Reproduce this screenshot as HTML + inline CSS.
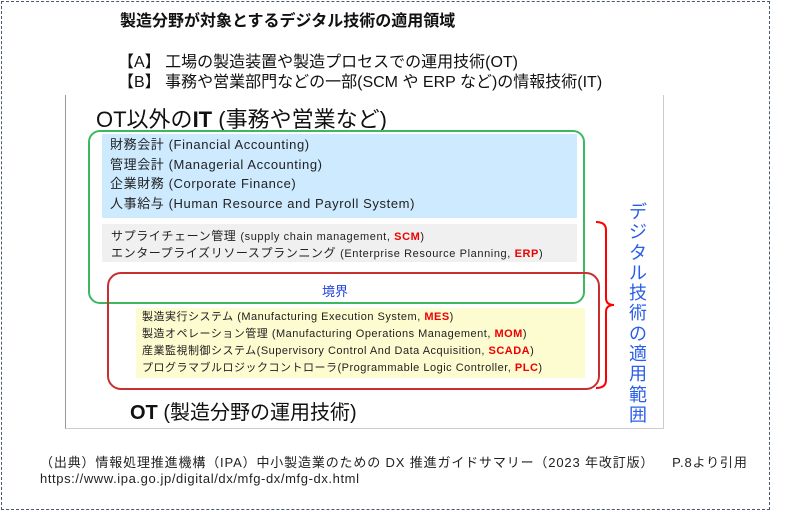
<!DOCTYPE html>
<html><head><meta charset="utf-8"><style>
body{margin:0;width:800px;height:511px;background:#fff;position:relative;overflow:hidden;font-family:"Liberation Sans","Noto Sans CJK JP",sans-serif;color:#222}
div{position:absolute;white-space:nowrap}
.r{color:#e00;font-weight:bold}
</style></head><body>
<div style="left:1px;top:1px;width:767px;height:507px;border:1.5px dashed #4a5a6a"></div>
<div style="left:120px;top:7px;font-size:16px;font-weight:bold;color:#111">製造分野が対象とするデジタル技術の適用領域</div>
<div style="left:118px;top:48px;font-size:16px;color:#111">【A】 工場の製造装置や製造プロセスでの運用技術(OT)</div>
<div style="left:118px;top:68px;font-size:16px;color:#111">【B】 事務や営業部門などの一部(SCM や ERP など)の情報技術(IT)</div>
<div style="left:65px;top:95px;width:597px;height:333px;border-left:1px solid #999;border-right:1px solid #ccc;border-bottom:1px solid #ccc"></div>
<div style="left:96px;top:102px;font-size:22px;color:#111">OT以外の<b>IT</b> (事務や営業など)</div>
<div style="left:102px;top:134px;width:475px;height:84px;background:#cdeaff"></div>
<div style="left:102px;top:224px;width:475px;height:38px;background:#f0f0f0"></div>
<div style="left:136px;top:308px;width:449px;height:70px;background:#fdfbd0"></div>
<div style="left:88px;top:130px;width:493px;height:170px;border:2px solid #3cb860;border-radius:12px"></div>
<div style="left:107px;top:272px;width:489px;height:114px;border:2px solid #c83030;border-radius:14px"></div>
<div style="left:110px;top:135px;font-size:13px;line-height:19.5px;color:#222;letter-spacing:0.6px">財務会計 (Financial Accounting)<br>管理会計 (Managerial Accounting)<br>企業財務 (Corporate Finance)<br>人事給与 (Human Resource and Payroll System)</div>
<div style="left:111px;top:228px;font-size:12px;line-height:16px;color:#222;letter-spacing:0.6px">サプライチェーン管理 <span style="font-size:11px">(supply chain management, <span class="r">SCM</span>)</span><br>エンタープライズリソースプランニング <span style="font-size:11px">(Enterprise Resource Planning, <span class="r">ERP</span>)</span></div>
<div style="left:322px;top:281px;font-size:13px;color:#2244dd">境界</div>
<div style="left:142px;top:309px;font-size:11px;line-height:17px;color:#222;letter-spacing:0.5px">製造実行システム (Manufacturing Execution System, <span class="r">MES</span>)<br>製造オペレーション管理 (Manufacturing Operations Management, <span class="r">MOM</span>)<br>産業監視制御システム(Supervisory Control And Data Acquisition, <span class="r">SCADA</span>)<br>プログラマブルロジックコントローラ(Programmable Logic Controller, <span class="r">PLC</span>)</div>
<div style="left:130px;top:396px;font-size:20px;color:#111"><b>OT</b> (製造分野の運用技術)</div>
<svg style="position:absolute;left:0;top:0" width="800" height="511"><path d="M596 222 Q606 222 606 230 L606 298 Q606 305 614 305 Q606 305 606 312 L606 380 Q606 388 596 388" fill="none" stroke="#f00" stroke-width="2"/></svg>
<div style="left:627px;top:202px;width:22px;font-size:18px;line-height:20.3px;color:#2a5ee8;white-space:normal;text-align:center">デ<br>ジ<br>タ<br>ル<br>技<br>術<br>の<br>適<br>用<br>範<br>囲</div>
<div style="left:40px;top:452px;font-size:13px;color:#222;letter-spacing:0.85px">（出典）情報処理推進機構（IPA）中小製造業のための DX 推進ガイドサマリー（2023 年改訂版）&nbsp;&nbsp;&nbsp;&nbsp;P.8より引用</div>
<div style="left:40px;top:471px;font-size:13px;color:#222;letter-spacing:0.6px">https://www.ipa.go.jp/digital/dx/mfg-dx/mfg-dx.html</div>
</body></html>
